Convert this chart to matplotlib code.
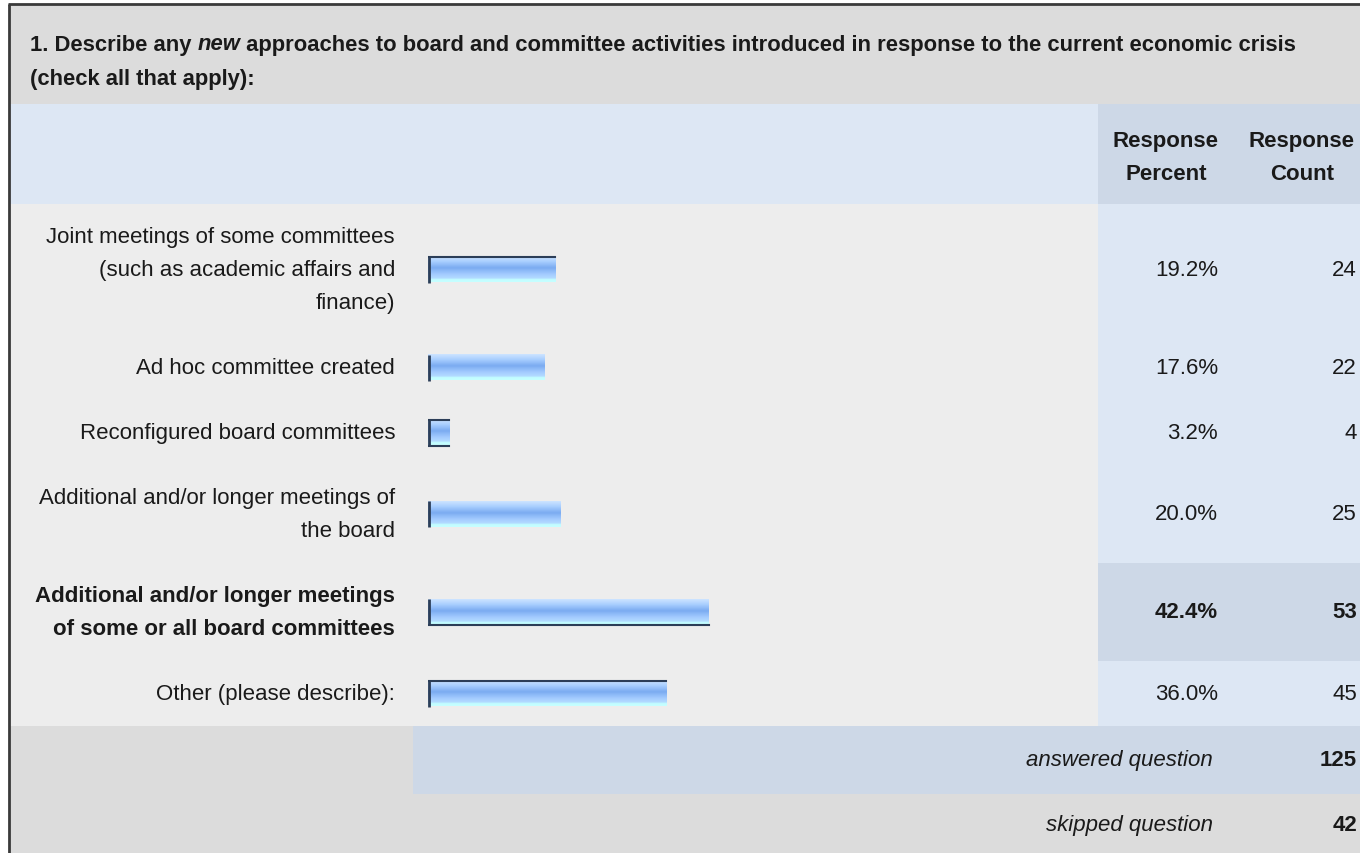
import numpy as np
import matplotlib
matplotlib.use("Agg")
import matplotlib.pyplot as plt
from matplotlib.patches import Rectangle
from matplotlib.colors import LinearSegmentedColormap

plt.rcParams['font.family'] = ['Liberation Sans', 'DejaVu Sans']

# survey results
etiquetas = [
    "Joint meetings of some committees\n(such as academic affairs and\nfinance)",
    "Ad hoc committee created",
    "Reconfigured board committees",
    "Additional and/or longer meetings of\nthe board",
    "Additional and/or longer meetings\nof some or all board committees",
    "Other (please describe):",
]
porcentajes = [19.2, 17.6, 3.2, 20.0, 42.4, 36.0]
conteos = [24, 22, 4, 25, 53, 45]
fila_destacada = 4
respondidas = 125
omitidas = 42

titulo_1 = ["1. Describe any ", "new", " approaches to board and committee activities introduced in response to the current economic crisis"]
titulo_2 = "(check all that apply):"

# colores
GRIS_TITULO = "#dcdcdc"
GRIS_CUERPO = "#ededed"
AZUL_CLARO = "#dde7f4"
AZUL_OSCURO = "#cdd8e7"
BORDE = "#3a3a3a"
TEXTO = "#1a1a1a"
FS = 16
FS_TIT = 15.85
INTERLINEA = 1.72

W, H = 1360, 854
fig = plt.figure(figsize=(W / 100, H / 100), dpi=100)
fig.patch.set_facecolor("white")
ax = fig.add_axes([0, 0, 1, 1])
ax.set_xlim(0, W)
ax.set_ylim(H, 0)
ax.axis("off")

def caja(x0, y0, x1, y1, color, z=0):
    ax.add_patch(Rectangle((x0, y0), x1 - x0, y1 - y0, facecolor=color, edgecolor="none", zorder=z))

IZQ = 10
COL_PCT = 1098
Y_TIT, Y_CAB, Y_CUERPO = 6, 105, 205

# alturas de fila segun lineas de la etiqueta
alturas = [32 + 33 * e.count("\n") + 33 for e in etiquetas]
bordes = np.concatenate([[Y_CUERPO], Y_CUERPO + np.cumsum(alturas)])
centros = (bordes[:-1] + bordes[1:]) / 2
Y_FIN = bordes[-1]
Y_RESP = Y_FIN + 68

# fondos
caja(IZQ, Y_TIT, W, Y_CAB, GRIS_TITULO)
caja(IZQ, Y_CAB, W, Y_CUERPO, AZUL_CLARO)
caja(COL_PCT, Y_CAB, W, Y_CUERPO, AZUL_OSCURO)
caja(IZQ, Y_CUERPO, COL_PCT, Y_FIN, GRIS_CUERPO)
caja(COL_PCT, Y_CUERPO, W, Y_FIN, AZUL_CLARO)
caja(COL_PCT, bordes[fila_destacada], W, bordes[fila_destacada + 1], AZUL_OSCURO)
caja(IZQ, Y_FIN, W, H, GRIS_TITULO)
caja(413, Y_FIN, W, Y_RESP, AZUL_OSCURO)

# borde exterior
ax.plot([IZQ - 1, IZQ - 1], [H, Y_TIT - 1], color=BORDE, lw=2, solid_capstyle="butt", zorder=5)
ax.plot([IZQ - 2, W], [Y_TIT - 1, Y_TIT - 1], color=BORDE, lw=2, solid_capstyle="butt", zorder=5)

# titulo con "new" en cursiva
fig.canvas.draw()
rend = fig.canvas.get_renderer()
x = 30
for i, parte in enumerate(titulo_1):
    t = ax.text(x, 45, parte, fontsize=FS_TIT, fontweight="bold", fontstyle="italic" if i == 1 else "normal",
                color=TEXTO, va="center", ha="left")
    bb = t.get_window_extent(rend)
    x += bb.width * W / fig.bbox.width
ax.text(30, 79, titulo_2, fontsize=FS_TIT, fontweight="bold", color=TEXTO, va="center", ha="left")

# cabecera de columnas
for xc, txt in [(1166, "Response\nPercent"), (1302, "Response\nCount")]:
    ax.text(xc, 158, txt, fontsize=FS, fontweight="bold", color=TEXTO, ha="center", va="center",
            multialignment="center", linespacing=INTERLINEA)

# etiquetas y valores
for i, (et, p, n, yc) in enumerate(zip(etiquetas, porcentajes, conteos, centros)):
    peso = "bold" if i == fila_destacada else "normal"
    ax.text(395, yc, et, fontsize=FS, fontweight=peso, color=TEXTO, ha="right", va="center",
            multialignment="right", linespacing=INTERLINEA)
    ax.text(1218, yc, f"{p:.1f}%", fontsize=FS, fontweight=peso, color=TEXTO, ha="right", va="center")
    ax.text(1357, yc, str(n), fontsize=FS, fontweight=peso, color=TEXTO, ha="right", va="center")

# pie
y_r = (Y_FIN + Y_RESP) / 2
y_o = Y_RESP + 31
ax.text(1213, y_r, "answered question", fontsize=FS, fontstyle="italic", color=TEXTO, ha="right", va="center")
ax.text(1357, y_r, str(respondidas), fontsize=FS, fontweight="bold", color=TEXTO, ha="right", va="center")
ax.text(1213, y_o, "skipped question", fontsize=FS, fontstyle="italic", color=TEXTO, ha="right", va="center")
ax.text(1357, y_o, str(omitidas), fontsize=FS, fontweight="bold", color=TEXTO, ha="right", va="center")

# barras con degradado, eje de 0 a 100 %
X0, X1 = 428, 1090
bax = fig.add_axes([X0 / W, 1 - Y_FIN / H, (X1 - X0) / W, (Y_FIN - Y_CUERPO) / H])
bax.axis("off")
bax.patch.set_alpha(0)

degradado = LinearSegmentedColormap.from_list("barra", [
    (0.0, "#cde4ff"), (0.2, "#a9cfff"), (0.45, "#7babf1"), (0.7, "#a3cbff"),
    (0.86, "#b3dbff"), (0.9, "#c0fcff"), (1.0, "#c6ffff")])
grad = np.linspace(0, 1, 64).reshape(-1, 1)
alto = 26
bars = bax.barh(centros, porcentajes, height=alto, color="none", edgecolor="none")
for b, p, yc in zip(bars, porcentajes, centros):
    bax.imshow(grad, cmap=degradado, aspect="auto", extent=(0, p, yc + alto / 2, yc - alto / 2),
               interpolation="bilinear", zorder=2)
    bax.plot([0.15, 0.15], [yc - alto / 2, yc + alto / 2], color="#2c3e58", lw=2, zorder=3,
             solid_capstyle="butt")

# bordes oscuros arriba / abajo de algunas barras
arriba = [0, 2, 5]
abajo = [2, 4]
for i in arriba:
    bax.plot([0, porcentajes[i]], [centros[i] - alto / 2] * 2, color="#2c3e58", lw=1.5, zorder=3)
for i in abajo:
    bax.plot([0, porcentajes[i]], [centros[i] + alto / 2] * 2, color="#2c3e58", lw=1.5, zorder=3)
bax.set_xlim(0, 100)
bax.set_ylim(Y_FIN, Y_CUERPO)

fig.savefig("out.png", dpi=100)
